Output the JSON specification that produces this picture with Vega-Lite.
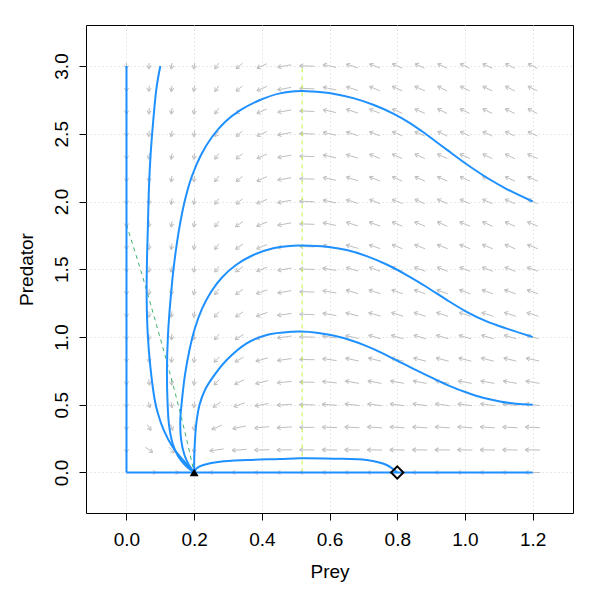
{
"$schema": "https://vega.github.io/schema/vega-lite/v6.json",
"width": 487, "height": 488,
"autosize": {"type": "none"},
"padding": {"left": 86, "top": 25, "right": 26, "bottom": 86},
"background": "white",
"config": {"view": {"stroke": "#000000", "strokeWidth": 1}},
"datasets": {
"field": [
{"x":0,"y":0.1887,"x2":0,"y2":0.1447,"a":90},{"x":0,"y":0.3553,"x2":0,"y2":0.3113,"a":90},{"x":0,"y":0.522,"x2":0,"y2":0.478,"a":90},{"x":0,"y":0.6887,"x2":0,"y2":0.6447,"a":90},{"x":0,"y":0.8553,"x2":0,"y2":0.8113,"a":90},{"x":0,"y":1.022,"x2":0,"y2":0.978,"a":90},{"x":0,"y":1.1887,"x2":0,"y2":1.1447,"a":90},{"x":0,"y":1.3553,"x2":0,"y2":1.3113,"a":90},{"x":0,"y":1.522,"x2":0,"y2":1.478,"a":90},{"x":0,"y":1.6887,"x2":0,"y2":1.6447,"a":90},{"x":0,"y":1.8553,"x2":0,"y2":1.8113,"a":90},{"x":0,"y":2.022,"x2":0,"y2":1.978,"a":90},{"x":0,"y":2.1887,"x2":0,"y2":2.1447,"a":90},{"x":0,"y":2.3553,"x2":0,"y2":2.3113,"a":90},{"x":0,"y":2.522,"x2":0,"y2":2.478,"a":90},{"x":0,"y":2.6887,"x2":0,"y2":2.6447,"a":90},{"x":0,"y":2.8553,"x2":0,"y2":2.8113,"a":90},{"x":0,"y":3.022,"x2":0,"y2":2.978,"a":90},
{"x":0.0447,"y":0,"x2":0.0887,"y2":0,"a":0},{"x":0.0558,"y":0.1858,"x2":0.0776,"y2":0.1476,"a":35},{"x":0.0608,"y":0.3545,"x2":0.0726,"y2":0.3121,"a":55},{"x":0.0636,"y":0.5218,"x2":0.0698,"y2":0.4782,"a":70},{"x":0.0652,"y":0.6886,"x2":0.0682,"y2":0.6448,"a":80},{"x":0.0659,"y":0.8553,"x2":0.0675,"y2":0.8113,"a":85},{"x":0.0664,"y":1.022,"x2":0.067,"y2":0.978,"a":88},{"x":0.0667,"y":1.1887,"x2":0.0667,"y2":1.1447,"a":90},{"x":0.067,"y":1.3553,"x2":0.0664,"y2":1.3113,"a":92},{"x":0.067,"y":1.522,"x2":0.0664,"y2":1.478,"a":92},{"x":0.067,"y":1.6887,"x2":0.0664,"y2":1.6447,"a":92},{"x":0.0675,"y":1.8553,"x2":0.0659,"y2":1.8113,"a":95},{"x":0.0675,"y":2.022,"x2":0.0659,"y2":1.978,"a":95},{"x":0.0675,"y":2.1887,"x2":0.0659,"y2":2.1447,"a":95},{"x":0.0675,"y":2.3553,"x2":0.0659,"y2":2.3113,"a":95},{"x":0.0675,"y":2.522,"x2":0.0659,"y2":2.478,"a":95},{"x":0.0675,"y":2.6887,"x2":0.0659,"y2":2.6447,"a":95},{"x":0.0675,"y":2.8553,"x2":0.0659,"y2":2.8113,"a":95},{"x":0.0675,"y":3.022,"x2":0.0659,"y2":2.978,"a":95},
{"x":0.1113,"y":0,"x2":0.1553,"y2":0,"a":0},{"x":0.1252,"y":0.1871,"x2":0.1414,"y2":0.1463,"a":45},{"x":0.1302,"y":0.3551,"x2":0.1364,"y2":0.3115,"a":70},{"x":0.1318,"y":0.5219,"x2":0.1348,"y2":0.4781,"a":80},{"x":0.133,"y":0.6887,"x2":0.1336,"y2":0.6447,"a":88},{"x":0.1341,"y":0.8553,"x2":0.1325,"y2":0.8113,"a":95},{"x":0.1341,"y":1.022,"x2":0.1325,"y2":0.978,"a":95},{"x":0.1348,"y":1.1886,"x2":0.1318,"y2":1.1448,"a":100},{"x":0.1348,"y":1.3552,"x2":0.1318,"y2":1.3114,"a":100},{"x":0.1348,"y":1.5219,"x2":0.1318,"y2":1.4781,"a":100},{"x":0.1348,"y":1.6886,"x2":0.1318,"y2":1.6448,"a":100},{"x":0.1348,"y":1.8552,"x2":0.1318,"y2":1.8114,"a":100},{"x":0.1348,"y":2.0219,"x2":0.1318,"y2":1.9781,"a":100},{"x":0.1348,"y":2.1886,"x2":0.1318,"y2":2.1448,"a":100},{"x":0.1348,"y":2.3552,"x2":0.1318,"y2":2.3114,"a":100},{"x":0.1348,"y":2.5219,"x2":0.1318,"y2":2.4781,"a":100},{"x":0.1348,"y":2.6886,"x2":0.1318,"y2":2.6448,"a":100},{"x":0.1348,"y":2.8552,"x2":0.1318,"y2":2.8114,"a":100},{"x":0.1348,"y":3.0219,"x2":0.1318,"y2":2.9781,"a":100},
{"x":0.2015,"y":0.1886,"x2":0.1985,"y2":0.1448,"a":100},{"x":0.2015,"y":0.3552,"x2":0.1985,"y2":0.3114,"a":100},{"x":0.2015,"y":0.5219,"x2":0.1985,"y2":0.4781,"a":100},{"x":0.2015,"y":0.6886,"x2":0.1985,"y2":0.6448,"a":100},{"x":0.2015,"y":0.8552,"x2":0.1985,"y2":0.8114,"a":100},{"x":0.2015,"y":1.0219,"x2":0.1985,"y2":0.9781,"a":100},{"x":0.2015,"y":1.1886,"x2":0.1985,"y2":1.1448,"a":100},{"x":0.2015,"y":1.3552,"x2":0.1985,"y2":1.3114,"a":100},{"x":0.2015,"y":1.5219,"x2":0.1985,"y2":1.4781,"a":100},{"x":0.2015,"y":1.6886,"x2":0.1985,"y2":1.6448,"a":100},{"x":0.2015,"y":1.8552,"x2":0.1985,"y2":1.8114,"a":100},{"x":0.2015,"y":2.0219,"x2":0.1985,"y2":1.9781,"a":100},{"x":0.2015,"y":2.1886,"x2":0.1985,"y2":2.1448,"a":100},{"x":0.2015,"y":2.3552,"x2":0.1985,"y2":2.3114,"a":100},{"x":0.2015,"y":2.5219,"x2":0.1985,"y2":2.4781,"a":100},{"x":0.2015,"y":2.6886,"x2":0.1985,"y2":2.6448,"a":100},{"x":0.2015,"y":2.8552,"x2":0.1985,"y2":2.8114,"a":100},{"x":0.2015,"y":3.0219,"x2":0.1985,"y2":2.9781,"a":100},
{"x":0.2887,"y":0,"x2":0.2447,"y2":0,"a":180},{"x":0.2874,"y":0.174,"x2":0.246,"y2":0.1594,"a":172},{"x":0.2814,"y":0.3497,"x2":0.252,"y2":0.3169,"a":156},{"x":0.2776,"y":0.5191,"x2":0.2558,"y2":0.4809,"a":145},{"x":0.2748,"y":0.6871,"x2":0.2586,"y2":0.6463,"a":135},{"x":0.2748,"y":0.8537,"x2":0.2586,"y2":0.8129,"a":135},{"x":0.2737,"y":1.0209,"x2":0.2597,"y2":0.9791,"a":130},{"x":0.2737,"y":1.1876,"x2":0.2597,"y2":1.1458,"a":130},{"x":0.2726,"y":1.3545,"x2":0.2608,"y2":1.3121,"a":125},{"x":0.2726,"y":1.5212,"x2":0.2608,"y2":1.4788,"a":125},{"x":0.2726,"y":1.6879,"x2":0.2608,"y2":1.6455,"a":125},{"x":0.2726,"y":1.8545,"x2":0.2608,"y2":1.8121,"a":125},{"x":0.2726,"y":2.0212,"x2":0.2608,"y2":1.9788,"a":125},{"x":0.2726,"y":2.1879,"x2":0.2608,"y2":2.1455,"a":125},{"x":0.2726,"y":2.3545,"x2":0.2608,"y2":2.3121,"a":125},{"x":0.2726,"y":2.5212,"x2":0.2608,"y2":2.4788,"a":125},{"x":0.2726,"y":2.6879,"x2":0.2608,"y2":2.6455,"a":125},{"x":0.2726,"y":2.8545,"x2":0.2608,"y2":2.8121,"a":125},{"x":0.2726,"y":3.0212,"x2":0.2608,"y2":2.9788,"a":125},
{"x":0.3553,"y":0,"x2":0.3113,"y2":0,"a":180},{"x":0.355,"y":0.1705,"x2":0.3116,"y2":0.1629,"a":176},{"x":0.3527,"y":0.3437,"x2":0.3139,"y2":0.3229,"a":168},{"x":0.3495,"y":0.5148,"x2":0.3171,"y2":0.4852,"a":160},{"x":0.3472,"y":0.6837,"x2":0.3194,"y2":0.6497,"a":154},{"x":0.3458,"y":0.8514,"x2":0.3208,"y2":0.8152,"a":150},{"x":0.3458,"y":1.0181,"x2":0.3208,"y2":0.9819,"a":150},{"x":0.3442,"y":1.1858,"x2":0.3224,"y2":1.1476,"a":145},{"x":0.3442,"y":1.3524,"x2":0.3224,"y2":1.3142,"a":145},{"x":0.3442,"y":1.5191,"x2":0.3224,"y2":1.4809,"a":145},{"x":0.3442,"y":1.6858,"x2":0.3224,"y2":1.6476,"a":145},{"x":0.3442,"y":1.8524,"x2":0.3224,"y2":1.8142,"a":145},{"x":0.3427,"y":2.0199,"x2":0.3239,"y2":1.9801,"a":140},{"x":0.3427,"y":2.1866,"x2":0.3239,"y2":2.1468,"a":140},{"x":0.3427,"y":2.3532,"x2":0.3239,"y2":2.3134,"a":140},{"x":0.3427,"y":2.5199,"x2":0.3239,"y2":2.4801,"a":140},{"x":0.3427,"y":2.6866,"x2":0.3239,"y2":2.6468,"a":140},{"x":0.3427,"y":2.8532,"x2":0.3239,"y2":2.8134,"a":140},{"x":0.3427,"y":3.0199,"x2":0.3239,"y2":2.9801,"a":140},
{"x":0.422,"y":0,"x2":0.378,"y2":0,"a":180},{"x":0.4219,"y":0.1686,"x2":0.3781,"y2":0.1648,"a":178},{"x":0.4213,"y":0.3389,"x2":0.3787,"y2":0.3277,"a":174},{"x":0.4201,"y":0.5089,"x2":0.3799,"y2":0.4911,"a":170},{"x":0.4186,"y":0.6784,"x2":0.3814,"y2":0.655,"a":166},{"x":0.4178,"y":0.8462,"x2":0.3822,"y2":0.8204,"a":164},{"x":0.4171,"y":1.0139,"x2":0.3829,"y2":0.9861,"a":162},{"x":0.4162,"y":1.1815,"x2":0.3838,"y2":1.1519,"a":160},{"x":0.4162,"y":1.3481,"x2":0.3838,"y2":1.3185,"a":160},{"x":0.4154,"y":1.5157,"x2":0.3846,"y2":1.4843,"a":158},{"x":0.4154,"y":1.6824,"x2":0.3846,"y2":1.651,"a":158},{"x":0.4154,"y":1.849,"x2":0.3846,"y2":1.8176,"a":158},{"x":0.4154,"y":2.0157,"x2":0.3846,"y2":1.9843,"a":158},{"x":0.4147,"y":2.1831,"x2":0.3853,"y2":2.1503,"a":156},{"x":0.4147,"y":2.3497,"x2":0.3853,"y2":2.3169,"a":156},{"x":0.4147,"y":2.5164,"x2":0.3853,"y2":2.4836,"a":156},{"x":0.4147,"y":2.6831,"x2":0.3853,"y2":2.6503,"a":156},{"x":0.4147,"y":2.8497,"x2":0.3853,"y2":2.8169,"a":156},{"x":0.4147,"y":3.0164,"x2":0.3853,"y2":2.9836,"a":156},
{"x":0.4887,"y":0,"x2":0.4447,"y2":0,"a":180},{"x":0.4887,"y":0.1677,"x2":0.4447,"y2":0.1657,"a":179},{"x":0.4885,"y":0.3362,"x2":0.4449,"y2":0.3304,"a":177},{"x":0.4884,"y":0.5038,"x2":0.445,"y2":0.4962,"a":176},{"x":0.488,"y":0.6723,"x2":0.4454,"y2":0.6611,"a":174},{"x":0.4874,"y":0.8406,"x2":0.446,"y2":0.826,"a":172},{"x":0.4874,"y":1.0073,"x2":0.446,"y2":0.9927,"a":172},{"x":0.4874,"y":1.174,"x2":0.446,"y2":1.1594,"a":172},{"x":0.4868,"y":1.3422,"x2":0.4466,"y2":1.3244,"a":170},{"x":0.4868,"y":1.5089,"x2":0.4466,"y2":1.4911,"a":170},{"x":0.4868,"y":1.6756,"x2":0.4466,"y2":1.6578,"a":170},{"x":0.4868,"y":1.8422,"x2":0.4466,"y2":1.8244,"a":170},{"x":0.4868,"y":2.0089,"x2":0.4466,"y2":1.9911,"a":170},{"x":0.4868,"y":2.1756,"x2":0.4466,"y2":2.1578,"a":170},{"x":0.4868,"y":2.3422,"x2":0.4466,"y2":2.3244,"a":170},{"x":0.4868,"y":2.5089,"x2":0.4466,"y2":2.4911,"a":170},{"x":0.4868,"y":2.6756,"x2":0.4466,"y2":2.6578,"a":170},{"x":0.4868,"y":2.8422,"x2":0.4466,"y2":2.8244,"a":170},{"x":0.4868,"y":3.0089,"x2":0.4466,"y2":2.9911,"a":170},
{"x":0.5553,"y":0,"x2":0.5113,"y2":0,"a":180},{"x":0.5553,"y":0.1667,"x2":0.5113,"y2":0.1667,"a":180},{"x":0.5553,"y":0.3333,"x2":0.5113,"y2":0.3333,"a":180},{"x":0.5553,"y":0.499,"x2":0.5113,"y2":0.501,"a":181},{"x":0.5553,"y":0.6657,"x2":0.5113,"y2":0.6677,"a":181},{"x":0.5553,"y":0.8323,"x2":0.5113,"y2":0.8343,"a":181},{"x":0.5553,"y":0.999,"x2":0.5113,"y2":1.001,"a":181},{"x":0.5552,"y":1.1648,"x2":0.5114,"y2":1.1686,"a":182},{"x":0.5552,"y":1.3314,"x2":0.5114,"y2":1.3352,"a":182},{"x":0.5552,"y":1.4981,"x2":0.5114,"y2":1.5019,"a":182},{"x":0.5552,"y":1.6648,"x2":0.5114,"y2":1.6686,"a":182},{"x":0.5552,"y":1.8314,"x2":0.5114,"y2":1.8352,"a":182},{"x":0.5552,"y":1.9981,"x2":0.5114,"y2":2.0019,"a":182},{"x":0.5552,"y":2.1648,"x2":0.5114,"y2":2.1686,"a":182},{"x":0.5552,"y":2.3314,"x2":0.5114,"y2":2.3352,"a":182},{"x":0.5552,"y":2.4981,"x2":0.5114,"y2":2.5019,"a":182},{"x":0.5552,"y":2.6648,"x2":0.5114,"y2":2.6686,"a":182},{"x":0.5552,"y":2.8314,"x2":0.5114,"y2":2.8352,"a":182},{"x":0.5552,"y":2.9981,"x2":0.5114,"y2":3.0019,"a":182},
{"x":0.622,"y":0,"x2":0.578,"y2":0,"a":180},{"x":0.622,"y":0.1657,"x2":0.578,"y2":0.1677,"a":181},{"x":0.6219,"y":0.3314,"x2":0.5781,"y2":0.3352,"a":182},{"x":0.6217,"y":0.4962,"x2":0.5783,"y2":0.5038,"a":184},{"x":0.6213,"y":0.6611,"x2":0.5787,"y2":0.6723,"a":186},{"x":0.6207,"y":0.826,"x2":0.5793,"y2":0.8406,"a":188},{"x":0.6207,"y":0.9927,"x2":0.5793,"y2":1.0073,"a":188},{"x":0.6201,"y":1.1578,"x2":0.5799,"y2":1.1756,"a":190},{"x":0.6201,"y":1.3244,"x2":0.5799,"y2":1.3422,"a":190},{"x":0.6201,"y":1.4911,"x2":0.5799,"y2":1.5089,"a":190},{"x":0.6194,"y":1.6563,"x2":0.5806,"y2":1.6771,"a":192},{"x":0.6194,"y":1.8229,"x2":0.5806,"y2":1.8437,"a":192},{"x":0.6194,"y":1.9896,"x2":0.5806,"y2":2.0104,"a":192},{"x":0.6194,"y":2.1563,"x2":0.5806,"y2":2.1771,"a":192},{"x":0.6194,"y":2.3229,"x2":0.5806,"y2":2.3437,"a":192},{"x":0.6194,"y":2.4896,"x2":0.5806,"y2":2.5104,"a":192},{"x":0.6194,"y":2.6563,"x2":0.5806,"y2":2.6771,"a":192},{"x":0.6194,"y":2.8229,"x2":0.5806,"y2":2.8437,"a":192},{"x":0.6194,"y":2.9896,"x2":0.5806,"y2":3.0104,"a":192},
{"x":0.6887,"y":0,"x2":0.6447,"y2":0,"a":180},{"x":0.6887,"y":0.1657,"x2":0.6447,"y2":0.1677,"a":181},{"x":0.6885,"y":0.3304,"x2":0.6449,"y2":0.3362,"a":183},{"x":0.688,"y":0.4944,"x2":0.6454,"y2":0.5056,"a":186},{"x":0.6868,"y":0.6578,"x2":0.6466,"y2":0.6756,"a":190},{"x":0.6861,"y":0.8229,"x2":0.6473,"y2":0.8437,"a":192},{"x":0.6861,"y":0.9896,"x2":0.6473,"y2":1.0104,"a":192},{"x":0.6853,"y":1.155,"x2":0.6481,"y2":1.1784,"a":194},{"x":0.6845,"y":1.3204,"x2":0.6489,"y2":1.3462,"a":196},{"x":0.6845,"y":1.4871,"x2":0.6489,"y2":1.5129,"a":196},{"x":0.6845,"y":1.6538,"x2":0.6489,"y2":1.6796,"a":196},{"x":0.6838,"y":1.8194,"x2":0.6496,"y2":1.8472,"a":198},{"x":0.6838,"y":1.9861,"x2":0.6496,"y2":2.0139,"a":198},{"x":0.6838,"y":2.1528,"x2":0.6496,"y2":2.1806,"a":198},{"x":0.6838,"y":2.3194,"x2":0.6496,"y2":2.3472,"a":198},{"x":0.6838,"y":2.4861,"x2":0.6496,"y2":2.5139,"a":198},{"x":0.6838,"y":2.6528,"x2":0.6496,"y2":2.6806,"a":198},{"x":0.6838,"y":2.8194,"x2":0.6496,"y2":2.8472,"a":198},{"x":0.6838,"y":2.9861,"x2":0.6496,"y2":3.0139,"a":198},
{"x":0.7553,"y":0,"x2":0.7113,"y2":0,"a":180},{"x":0.7553,"y":0.1657,"x2":0.7113,"y2":0.1677,"a":181},{"x":0.755,"y":0.3295,"x2":0.7116,"y2":0.3371,"a":184},{"x":0.754,"y":0.4927,"x2":0.7126,"y2":0.5073,"a":188},{"x":0.7534,"y":0.6578,"x2":0.7132,"y2":0.6756,"a":190},{"x":0.7519,"y":0.8216,"x2":0.7147,"y2":0.845,"a":194},{"x":0.7511,"y":0.9871,"x2":0.7155,"y2":1.0129,"a":196},{"x":0.7511,"y":1.1538,"x2":0.7155,"y2":1.1796,"a":196},{"x":0.7504,"y":1.3194,"x2":0.7162,"y2":1.3472,"a":198},{"x":0.7495,"y":1.4852,"x2":0.7171,"y2":1.5148,"a":200},{"x":0.7495,"y":1.6519,"x2":0.7171,"y2":1.6815,"a":200},{"x":0.7495,"y":1.8185,"x2":0.7171,"y2":1.8481,"a":200},{"x":0.7487,"y":1.9843,"x2":0.7179,"y2":2.0157,"a":202},{"x":0.7487,"y":2.151,"x2":0.7179,"y2":2.1824,"a":202},{"x":0.7487,"y":2.3176,"x2":0.7179,"y2":2.349,"a":202},{"x":0.7487,"y":2.4843,"x2":0.7179,"y2":2.5157,"a":202},{"x":0.7487,"y":2.651,"x2":0.7179,"y2":2.6824,"a":202},{"x":0.7487,"y":2.8176,"x2":0.7179,"y2":2.849,"a":202},{"x":0.7487,"y":2.9843,"x2":0.7179,"y2":3.0157,"a":202},
{"x":0.822,"y":0,"x2":0.778,"y2":0,"a":180},{"x":0.822,"y":0.1657,"x2":0.778,"y2":0.1677,"a":181},{"x":0.8217,"y":0.3295,"x2":0.7783,"y2":0.3371,"a":184},{"x":0.8207,"y":0.4927,"x2":0.7793,"y2":0.5073,"a":188},{"x":0.8201,"y":0.6578,"x2":0.7799,"y2":0.6756,"a":190},{"x":0.8186,"y":0.8216,"x2":0.7814,"y2":0.845,"a":194},{"x":0.8178,"y":0.9871,"x2":0.7822,"y2":1.0129,"a":196},{"x":0.8171,"y":1.1528,"x2":0.7829,"y2":1.1806,"a":198},{"x":0.8162,"y":1.3185,"x2":0.7838,"y2":1.3481,"a":200},{"x":0.8162,"y":1.4852,"x2":0.7838,"y2":1.5148,"a":200},{"x":0.8154,"y":1.651,"x2":0.7846,"y2":1.6824,"a":202},{"x":0.8154,"y":1.8176,"x2":0.7846,"y2":1.849,"a":202},{"x":0.8154,"y":1.9843,"x2":0.7846,"y2":2.0157,"a":202},{"x":0.8147,"y":2.1503,"x2":0.7853,"y2":2.1831,"a":204},{"x":0.8147,"y":2.3169,"x2":0.7853,"y2":2.3497,"a":204},{"x":0.8147,"y":2.4836,"x2":0.7853,"y2":2.5164,"a":204},{"x":0.8147,"y":2.6503,"x2":0.7853,"y2":2.6831,"a":204},{"x":0.8147,"y":2.8169,"x2":0.7853,"y2":2.8497,"a":204},{"x":0.8147,"y":2.9836,"x2":0.7853,"y2":3.0164,"a":204},
{"x":0.8887,"y":0,"x2":0.8447,"y2":0,"a":180},{"x":0.8887,"y":0.1657,"x2":0.8447,"y2":0.1677,"a":181},{"x":0.8884,"y":0.3295,"x2":0.845,"y2":0.3371,"a":184},{"x":0.8874,"y":0.4927,"x2":0.846,"y2":0.5073,"a":188},{"x":0.8868,"y":0.6578,"x2":0.8466,"y2":0.6756,"a":190},{"x":0.8853,"y":0.8216,"x2":0.8481,"y2":0.845,"a":194},{"x":0.8845,"y":0.9871,"x2":0.8489,"y2":1.0129,"a":196},{"x":0.8838,"y":1.1528,"x2":0.8496,"y2":1.1806,"a":198},{"x":0.8829,"y":1.3185,"x2":0.8505,"y2":1.3481,"a":200},{"x":0.8829,"y":1.4852,"x2":0.8505,"y2":1.5148,"a":200},{"x":0.8821,"y":1.651,"x2":0.8513,"y2":1.6824,"a":202},{"x":0.8821,"y":1.8176,"x2":0.8513,"y2":1.849,"a":202},{"x":0.8814,"y":1.9836,"x2":0.852,"y2":2.0164,"a":204},{"x":0.8814,"y":2.1503,"x2":0.852,"y2":2.1831,"a":204},{"x":0.8814,"y":2.3169,"x2":0.852,"y2":2.3497,"a":204},{"x":0.8814,"y":2.4836,"x2":0.852,"y2":2.5164,"a":204},{"x":0.8814,"y":2.6503,"x2":0.852,"y2":2.6831,"a":204},{"x":0.8814,"y":2.8169,"x2":0.852,"y2":2.8497,"a":204},{"x":0.8806,"y":2.983,"x2":0.8528,"y2":3.017,"a":206},
{"x":0.9553,"y":0,"x2":0.9113,"y2":0,"a":180},{"x":0.9553,"y":0.1657,"x2":0.9113,"y2":0.1677,"a":181},{"x":0.955,"y":0.3295,"x2":0.9116,"y2":0.3371,"a":184},{"x":0.954,"y":0.4927,"x2":0.9126,"y2":0.5073,"a":188},{"x":0.9534,"y":0.6578,"x2":0.9132,"y2":0.6756,"a":190},{"x":0.9519,"y":0.8216,"x2":0.9147,"y2":0.845,"a":194},{"x":0.9511,"y":0.9871,"x2":0.9155,"y2":1.0129,"a":196},{"x":0.9504,"y":1.1528,"x2":0.9162,"y2":1.1806,"a":198},{"x":0.9495,"y":1.3185,"x2":0.9171,"y2":1.3481,"a":200},{"x":0.9487,"y":1.4843,"x2":0.9179,"y2":1.5157,"a":202},{"x":0.9487,"y":1.651,"x2":0.9179,"y2":1.6824,"a":202},{"x":0.948,"y":1.8169,"x2":0.9186,"y2":1.8497,"a":204},{"x":0.948,"y":1.9836,"x2":0.9186,"y2":2.0164,"a":204},{"x":0.948,"y":2.1503,"x2":0.9186,"y2":2.1831,"a":204},{"x":0.948,"y":2.3169,"x2":0.9186,"y2":2.3497,"a":204},{"x":0.9472,"y":2.483,"x2":0.9194,"y2":2.517,"a":206},{"x":0.9472,"y":2.6497,"x2":0.9194,"y2":2.6837,"a":206},{"x":0.9472,"y":2.8163,"x2":0.9194,"y2":2.8503,"a":206},{"x":0.9472,"y":2.983,"x2":0.9194,"y2":3.017,"a":206},
{"x":1.022,"y":0,"x2":0.978,"y2":0,"a":180},{"x":1.022,"y":0.1657,"x2":0.978,"y2":0.1677,"a":181},{"x":1.0217,"y":0.3295,"x2":0.9783,"y2":0.3371,"a":184},{"x":1.0207,"y":0.4927,"x2":0.9793,"y2":0.5073,"a":188},{"x":1.0201,"y":0.6578,"x2":0.9799,"y2":0.6756,"a":190},{"x":1.0186,"y":0.8216,"x2":0.9814,"y2":0.845,"a":194},{"x":1.0178,"y":0.9871,"x2":0.9822,"y2":1.0129,"a":196},{"x":1.0171,"y":1.1528,"x2":0.9829,"y2":1.1806,"a":198},{"x":1.0162,"y":1.3185,"x2":0.9838,"y2":1.3481,"a":200},{"x":1.0154,"y":1.4843,"x2":0.9846,"y2":1.5157,"a":202},{"x":1.0154,"y":1.651,"x2":0.9846,"y2":1.6824,"a":202},{"x":1.0154,"y":1.8176,"x2":0.9846,"y2":1.849,"a":202},{"x":1.0147,"y":1.9836,"x2":0.9853,"y2":2.0164,"a":204},{"x":1.0147,"y":2.1503,"x2":0.9853,"y2":2.1831,"a":204},{"x":1.0147,"y":2.3169,"x2":0.9853,"y2":2.3497,"a":204},{"x":1.0139,"y":2.483,"x2":0.9861,"y2":2.517,"a":206},{"x":1.0139,"y":2.6497,"x2":0.9861,"y2":2.6837,"a":206},{"x":1.0139,"y":2.8163,"x2":0.9861,"y2":2.8503,"a":206},{"x":1.0139,"y":2.983,"x2":0.9861,"y2":3.017,"a":206},
{"x":1.0887,"y":0,"x2":1.0447,"y2":0,"a":180},{"x":1.0887,"y":0.1657,"x2":1.0447,"y2":0.1677,"a":181},{"x":1.0884,"y":0.3295,"x2":1.045,"y2":0.3371,"a":184},{"x":1.0874,"y":0.4927,"x2":1.046,"y2":0.5073,"a":188},{"x":1.0868,"y":0.6578,"x2":1.0466,"y2":0.6756,"a":190},{"x":1.0853,"y":0.8216,"x2":1.0481,"y2":0.845,"a":194},{"x":1.0845,"y":0.9871,"x2":1.0489,"y2":1.0129,"a":196},{"x":1.0838,"y":1.1528,"x2":1.0496,"y2":1.1806,"a":198},{"x":1.0829,"y":1.3185,"x2":1.0505,"y2":1.3481,"a":200},{"x":1.0821,"y":1.4843,"x2":1.0513,"y2":1.5157,"a":202},{"x":1.0821,"y":1.651,"x2":1.0513,"y2":1.6824,"a":202},{"x":1.0814,"y":1.8169,"x2":1.052,"y2":1.8497,"a":204},{"x":1.0814,"y":1.9836,"x2":1.052,"y2":2.0164,"a":204},{"x":1.0814,"y":2.1503,"x2":1.052,"y2":2.1831,"a":204},{"x":1.0806,"y":2.3163,"x2":1.0528,"y2":2.3503,"a":206},{"x":1.0806,"y":2.483,"x2":1.0528,"y2":2.517,"a":206},{"x":1.0806,"y":2.6497,"x2":1.0528,"y2":2.6837,"a":206},{"x":1.0806,"y":2.8163,"x2":1.0528,"y2":2.8503,"a":206},{"x":1.0806,"y":2.983,"x2":1.0528,"y2":3.017,"a":206},
{"x":1.1553,"y":0,"x2":1.1113,"y2":0,"a":180},{"x":1.1553,"y":0.1657,"x2":1.1113,"y2":0.1677,"a":181},{"x":1.1551,"y":0.3304,"x2":1.1115,"y2":0.3362,"a":183},{"x":1.1546,"y":0.4944,"x2":1.112,"y2":0.5056,"a":186},{"x":1.1534,"y":0.6578,"x2":1.1132,"y2":0.6756,"a":190},{"x":1.1519,"y":0.8216,"x2":1.1147,"y2":0.845,"a":194},{"x":1.1511,"y":0.9871,"x2":1.1155,"y2":1.0129,"a":196},{"x":1.1504,"y":1.1528,"x2":1.1162,"y2":1.1806,"a":198},{"x":1.1495,"y":1.3185,"x2":1.1171,"y2":1.3481,"a":200},{"x":1.1487,"y":1.4843,"x2":1.1179,"y2":1.5157,"a":202},{"x":1.1487,"y":1.651,"x2":1.1179,"y2":1.6824,"a":202},{"x":1.148,"y":1.8169,"x2":1.1186,"y2":1.8497,"a":204},{"x":1.148,"y":1.9836,"x2":1.1186,"y2":2.0164,"a":204},{"x":1.148,"y":2.1503,"x2":1.1186,"y2":2.1831,"a":204},{"x":1.1472,"y":2.3163,"x2":1.1194,"y2":2.3503,"a":206},{"x":1.1472,"y":2.483,"x2":1.1194,"y2":2.517,"a":206},{"x":1.1472,"y":2.6497,"x2":1.1194,"y2":2.6837,"a":206},{"x":1.1472,"y":2.8163,"x2":1.1194,"y2":2.8503,"a":206},{"x":1.1472,"y":2.983,"x2":1.1194,"y2":3.017,"a":206},
{"x":1.222,"y":0,"x2":1.178,"y2":0,"a":180},{"x":1.222,"y":0.1657,"x2":1.178,"y2":0.1677,"a":181},{"x":1.2218,"y":0.3304,"x2":1.1782,"y2":0.3362,"a":183},{"x":1.2213,"y":0.4944,"x2":1.1787,"y2":0.5056,"a":186},{"x":1.2201,"y":0.6578,"x2":1.1799,"y2":0.6756,"a":190},{"x":1.2194,"y":0.8229,"x2":1.1806,"y2":0.8437,"a":192},{"x":1.2178,"y":0.9871,"x2":1.1822,"y2":1.0129,"a":196},{"x":1.2171,"y":1.1528,"x2":1.1829,"y2":1.1806,"a":198},{"x":1.2162,"y":1.3185,"x2":1.1838,"y2":1.3481,"a":200},{"x":1.2162,"y":1.4852,"x2":1.1838,"y2":1.5148,"a":200},{"x":1.2154,"y":1.651,"x2":1.1846,"y2":1.6824,"a":202},{"x":1.2154,"y":1.8176,"x2":1.1846,"y2":1.849,"a":202},{"x":1.2147,"y":1.9836,"x2":1.1853,"y2":2.0164,"a":204},{"x":1.2147,"y":2.1503,"x2":1.1853,"y2":2.1831,"a":204},{"x":1.2147,"y":2.3169,"x2":1.1853,"y2":2.3497,"a":204},{"x":1.2139,"y":2.483,"x2":1.1861,"y2":2.517,"a":206},{"x":1.2139,"y":2.6497,"x2":1.1861,"y2":2.6837,"a":206},{"x":1.2139,"y":2.8163,"x2":1.1861,"y2":2.8503,"a":206},{"x":1.2139,"y":2.983,"x2":1.1861,"y2":3.017,"a":206}
],
"null": [
{"id":"prey","o":0,"x":0,"y":1.83},{"id":"prey","o":1,"x":0.02,"y":1.67},{"id":"prey","o":2,"x":0.04,"y":1.51},{"id":"prey","o":3,"x":0.06,"y":1.34},{"id":"prey","o":4,"x":0.08,"y":1.165},{"id":"prey","o":5,"x":0.1,"y":0.99},{"id":"prey","o":6,"x":0.12,"y":0.81},{"id":"prey","o":7,"x":0.14,"y":0.625},{"id":"prey","o":8,"x":0.16,"y":0.43},{"id":"prey","o":9,"x":0.18,"y":0.22},{"id":"prey","o":10,"x":0.2,"y":0},
{"id":"pred","o":0,"x":0.519,"y":0},{"id":"pred","o":1,"x":0.519,"y":3}
],
"traj": [
{"id":"f","o":0,"x":0,"y":3},{"id":"f","o":1,"x":0,"y":0},
{"id":"g","o":0,"x":0,"y":0},{"id":"g","o":1,"x":1.2,"y":0},
{"id":"a","o":0,"x":0.1,"y":3.0},{"id":"a","o":1,"x":0.0892,"y":2.847},{"id":"a","o":2,"x":0.0792,"y":2.601},{"id":"a","o":3,"x":0.0715,"y":2.356},{"id":"a","o":4,"x":0.0665,"y":2.109},{"id":"a","o":5,"x":0.0633,"y":1.82},{"id":"a","o":6,"x":0.0602,"y":1.519},{"id":"a","o":7,"x":0.0597,"y":1.273},{"id":"a","o":8,"x":0.0626,"y":1.03},{"id":"a","o":9,"x":0.0705,"y":0.781},{"id":"a","o":10,"x":0.0835,"y":0.535},{"id":"a","o":11,"x":0.0925,"y":0.439},{"id":"a","o":12,"x":0.1098,"y":0.314},{"id":"a","o":13,"x":0.1364,"y":0.188},{"id":"a","o":14,"x":0.1695,"y":0.085},{"id":"a","o":15,"x":0.2,"y":0},
{"id":"b","o":0,"x":1.2,"y":2.0},{"id":"b","o":1,"x":1.1232,"y":2.092},{"id":"b","o":2,"x":1.0641,"y":2.177},{"id":"b","o":3,"x":1.005,"y":2.275},{"id":"b","o":4,"x":0.946,"y":2.383},{"id":"b","o":5,"x":0.8869,"y":2.493},{"id":"b","o":6,"x":0.8375,"y":2.579},{"id":"b","o":7,"x":0.7882,"y":2.649},{"id":"b","o":8,"x":0.7291,"y":2.714},{"id":"b","o":9,"x":0.67,"y":2.763},{"id":"b","o":10,"x":0.6109,"y":2.795},{"id":"b","o":11,"x":0.5519,"y":2.811},{"id":"b","o":12,"x":0.5176,"y":2.815},{"id":"b","o":13,"x":0.4535,"y":2.798},{"id":"b","o":14,"x":0.3944,"y":2.749},{"id":"b","o":15,"x":0.3353,"y":2.672},{"id":"b","o":16,"x":0.291,"y":2.587},{"id":"b","o":17,"x":0.2526,"y":2.476},{"id":"b","o":18,"x":0.2201,"y":2.343},{"id":"b","o":19,"x":0.1935,"y":2.188},{"id":"b","o":20,"x":0.1728,"y":2.011},{"id":"b","o":21,"x":0.1551,"y":1.79},{"id":"b","o":22,"x":0.1403,"y":1.531},{"id":"b","o":23,"x":0.13,"y":1.273},{"id":"b","o":24,"x":0.1226,"y":1.015},{"id":"b","o":25,"x":0.1196,"y":0.756},{"id":"b","o":26,"x":0.1211,"y":0.535},{"id":"b","o":27,"x":0.1256,"y":0.351},{"id":"b","o":28,"x":0.1359,"y":0.218},{"id":"b","o":29,"x":0.1521,"y":0.122},{"id":"b","o":30,"x":0.1758,"y":0.048},{"id":"b","o":31,"x":0.2,"y":0},
{"id":"c","o":0,"x":1.2,"y":1.0},{"id":"c","o":1,"x":1.1232,"y":1.062},{"id":"c","o":2,"x":1.0641,"y":1.115},{"id":"c","o":3,"x":1.005,"y":1.186},{"id":"c","o":4,"x":0.946,"y":1.274},{"id":"c","o":5,"x":0.8869,"y":1.369},{"id":"c","o":6,"x":0.8278,"y":1.457},{"id":"c","o":7,"x":0.7687,"y":1.535},{"id":"c","o":8,"x":0.7096,"y":1.597},{"id":"c","o":9,"x":0.6505,"y":1.642},{"id":"c","o":10,"x":0.5914,"y":1.666},{"id":"c","o":11,"x":0.5185,"y":1.675},{"id":"c","o":12,"x":0.4928,"y":1.674},{"id":"c","o":13,"x":0.4337,"y":1.655},{"id":"c","o":14,"x":0.3746,"y":1.605},{"id":"c","o":15,"x":0.3235,"y":1.531},{"id":"c","o":16,"x":0.2821,"y":1.439},{"id":"c","o":17,"x":0.2496,"y":1.332},{"id":"c","o":18,"x":0.223,"y":1.207},{"id":"c","o":19,"x":0.2024,"y":1.066},{"id":"c","o":20,"x":0.1861,"y":0.904},{"id":"c","o":21,"x":0.1728,"y":0.72},{"id":"c","o":22,"x":0.164,"y":0.535},{"id":"c","o":23,"x":0.159,"y":0.387},{"id":"c","o":24,"x":0.1615,"y":0.24},{"id":"c","o":25,"x":0.1713,"y":0.129},{"id":"c","o":26,"x":0.1846,"y":0.055},{"id":"c","o":27,"x":0.2,"y":0},
{"id":"d","o":0,"x":1.2,"y":0.5},{"id":"d","o":1,"x":1.1507,"y":0.507},{"id":"d","o":2,"x":1.1034,"y":0.524},{"id":"d","o":3,"x":1.0532,"y":0.551},{"id":"d","o":4,"x":1.005,"y":0.59},{"id":"d","o":5,"x":0.9557,"y":0.638},{"id":"d","o":6,"x":0.9063,"y":0.694},{"id":"d","o":7,"x":0.8573,"y":0.753},{"id":"d","o":8,"x":0.808,"y":0.815},{"id":"d","o":9,"x":0.7587,"y":0.878},{"id":"d","o":10,"x":0.7096,"y":0.933},{"id":"d","o":11,"x":0.6603,"y":0.978},{"id":"d","o":12,"x":0.6109,"y":1.011},{"id":"d","o":13,"x":0.5619,"y":1.032},{"id":"d","o":14,"x":0.5126,"y":1.04},{"id":"d","o":15,"x":0.4928,"y":1.039},{"id":"d","o":16,"x":0.4142,"y":1.015},{"id":"d","o":17,"x":0.3551,"y":0.953},{"id":"d","o":18,"x":0.296,"y":0.83},{"id":"d","o":19,"x":0.2564,"y":0.707},{"id":"d","o":20,"x":0.2319,"y":0.609},{"id":"d","o":21,"x":0.2157,"y":0.498},{"id":"d","o":22,"x":0.2068,"y":0.371},{"id":"d","o":23,"x":0.2024,"y":0.24},{"id":"d","o":24,"x":0.2003,"y":0.122},{"id":"d","o":25,"x":0.2,"y":0},
{"id":"e","o":0,"x":0.8,"y":0},{"id":"e","o":1,"x":0.7687,"y":0.0554},{"id":"e","o":2,"x":0.7096,"y":0.0923},{"id":"e","o":3,"x":0.6109,"y":0.102},{"id":"e","o":4,"x":0.5126,"y":0.105},{"id":"e","o":5,"x":0.4535,"y":0.0996},{"id":"e","o":6,"x":0.3551,"y":0.0923},{"id":"e","o":7,"x":0.2762,"y":0.0797},{"id":"e","o":8,"x":0.2269,"y":0.0554},{"id":"e","o":9,"x":0.2074,"y":0.031},{"id":"e","o":10,"x":0.2,"y":0}
]
},
"layer": [
{"data": {"name": "field"},
 "mark": {"type": "rule", "color": "#BEBEBE", "strokeWidth": 1},
 "encoding": {
  "x": {"field": "x", "type": "quantitative", "title": "Prey",
        "scale": {"domain": [-0.1196, 1.3192], "nice": false, "zero": false},
        "axis": {"values": [0, 0.2, 0.4, 0.6, 0.8, 1.0, 1.2], "format": ".1f", "grid": true, "gridColor": "#D3D3D3", "gridDash": [1, 3], "gridWidth": 1, "domain": false, "tickColor": "#000000", "tickSize": 7, "tickWidth": 1, "labelFont": "Liberation Sans", "labelFontSize": 19, "labelColor": "#000000", "labelBaseline": "top", "labelPadding": 10, "labelFlush": false, "labelOverlap": false, "titleFont": "Liberation Sans", "titleFontSize": 19, "titleFontWeight": "normal", "titleColor": "#000000", "titleBaseline": "alphabetic", "titleY": 64}},
  "y": {"field": "y", "type": "quantitative", "title": "Predator",
        "scale": {"domain": [-0.2989, 3.3026], "nice": false, "zero": false},
        "axis": {"values": [0, 0.5, 1.0, 1.5, 2.0, 2.5, 3.0], "format": ".1f", "grid": true, "gridColor": "#D3D3D3", "gridDash": [1, 3], "gridWidth": 1, "domain": false, "tickColor": "#000000", "tickSize": 7, "tickWidth": 1, "labelFont": "Liberation Sans", "labelFontSize": 19, "labelColor": "#000000", "labelAngle": 270, "labelAlign": "center", "labelBaseline": "alphabetic", "labelPadding": 12, "labelFlush": false, "labelOverlap": false, "titleFont": "Liberation Sans", "titleFontSize": 19, "titleFontWeight": "normal", "titleColor": "#000000", "titleAngle": 270, "titleAlign": "center", "titleBaseline": "alphabetic", "titleX": -54, "titleY": 244}},
  "x2": {"field": "x2"}, "y2": {"field": "y2"}}},
{"data": {"name": "field"},
 "mark": {"type": "point", "shape": "M0,0L-1,-0.6M0,0L-1,0.6", "filled": false, "color": "#BEBEBE", "strokeWidth": 1, "size": 50, "opacity": 1},
 "encoding": {
  "x": {"field": "x2", "type": "quantitative", "title": "Prey"},
  "y": {"field": "y2", "type": "quantitative", "title": "Predator"},
  "angle": {"field": "a", "type": "quantitative", "scale": null}}},
{"data": {"name": "null"},
 "mark": {"type": "line", "strokeWidth": 1, "strokeDash": [4, 4]},
 "encoding": {
  "x": {"field": "x", "type": "quantitative", "title": "Prey"},
  "y": {"field": "y", "type": "quantitative", "title": "Predator"},
  "order": {"field": "o", "type": "quantitative"},
  "color": {"field": "id", "type": "nominal", "scale": {"domain": ["prey", "pred"], "range": ["#3CB371", "#BFEF45"]}, "legend": null}}},
{"data": {"name": "traj"},
 "mark": {"type": "line", "strokeWidth": 2, "color": "#1E90FF", "interpolate": "catmull-rom"},
 "encoding": {
  "x": {"field": "x", "type": "quantitative", "title": "Prey"},
  "y": {"field": "y", "type": "quantitative", "title": "Predator"},
  "order": {"field": "o", "type": "quantitative"},
  "detail": {"field": "id", "type": "nominal"}}},
{"data": {"values": [{"x": 0.2, "y": 0}]},
 "mark": {"type": "point", "shape": "triangle-up", "filled": true, "color": "#000000", "size": 80, "opacity": 1},
 "encoding": {
  "x": {"field": "x", "type": "quantitative", "title": "Prey"},
  "y": {"field": "y", "type": "quantitative", "title": "Predator"}}},
{"data": {"values": [{"x": 0.8, "y": 0}]},
 "mark": {"type": "point", "shape": "diamond", "filled": false, "color": "#000000", "strokeWidth": 2, "size": 150, "opacity": 1},
 "encoding": {
  "x": {"field": "x", "type": "quantitative", "title": "Prey"},
  "y": {"field": "y", "type": "quantitative", "title": "Predator"}}}
]
}
